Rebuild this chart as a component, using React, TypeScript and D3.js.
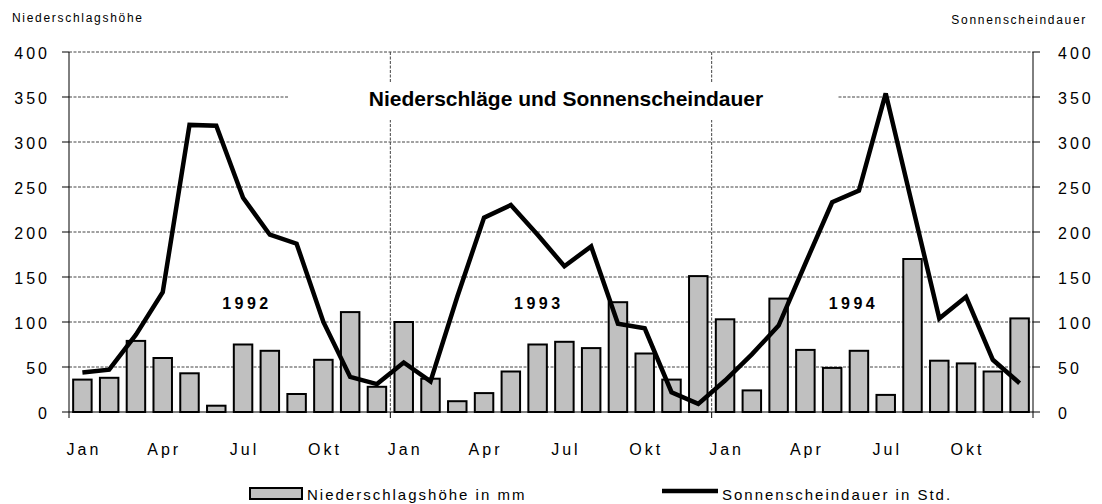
import React from "react";
import * as d3 from "d3";

const monthLabels = ["Jan", "Feb", "Mär", "Apr", "Mai", "Jun", "Jul", "Aug", "Sep", "Okt", "Nov", "Dez"];
const shownMonths = ["Jan", "Apr", "Jul", "Okt"];
const years = ["1992", "1993", "1994"];
const precip1992 = [36, 38, 79, 60, 43, 7, 75, 68, 20, 58, 111, 28];
const precip1993 = [100, 37, 12, 21, 45, 75, 78, 71, 122, 65, 36, 151];
const precip1994 = [103, 24, 126, 69, 49, 68, 19, 170, 57, 54, 45, 104];
const sun1992 = [44, 47, 86, 133, 319, 318, 238, 197, 187, 100, 39, 31];
const sun1993 = [55, 34, 128, 216, 230, 197, 162, 184, 98, 93, 22, 9];
const sun1994 = [35, 64, 96, 165, 233, 246, 354, 229, 104, 128, 58, 32];
const yTicks = [0, 50, 100, 150, 200, 250, 300, 350, 400];
const yearLabelPos = [6.57, 17.47, 29.22];

const title = "Niederschläge und Sonnenscheindauer";
const leftTitle = "Niederschlagshöhe";
const rightTitle = "Sonnenscheindauer";
const legendBar = "Niederschlagshöhe in mm";
const legendLine = "Sonnenscheindauer in Std.";

export default function App() {
  const W = 1102, H = 504;
  const L = 69, R = 1033, T = 52, B = 412;
  const keys: string[] = [];
  years.forEach((y) => monthLabels.forEach((m) => keys.push(y + "-" + m)));
  const precip = [...precip1992, ...precip1993, ...precip1994];
  const sun = [...sun1992, ...sun1993, ...sun1994];

  const x = d3.scaleBand<string>().domain(keys).range([L, R]).paddingInner(0.31).paddingOuter(0.155);
  const xm = d3.scaleLinear().domain([0, keys.length]).range([L, R]);
  const y = d3.scaleLinear().domain([0, 400]).range([B, T]);
  const cx = (k: string) => (x(k) as number) + x.bandwidth() / 2;

  const line = d3
    .line<number>()
    .x((_, i) => cx(keys[i]))
    .y((d) => y(d));

  const font = "Arial, 'Liberation Sans', sans-serif";
  const gridColor = "#444";
  const dash = "3,1.5";
  const boxX0 = 288, boxX1 = 837, boxY0 = 83, boxY1 = 120;

  return (
    <svg width={W} height={H} style={{ position: "absolute", left: 0, top: 0, background: "#fff" }} fontFamily={font}>
      <rect x={0} y={0} width={W} height={H} fill="#fff" />
      {/* horizontal grid */}
      {yTicks.filter((t) => t > 0).map((t) => (
        <line key={"g" + t} x1={L} x2={R} y1={y(t)} y2={y(t)} stroke={gridColor} strokeWidth={1} strokeDasharray={dash} />
      ))}
      {/* vertical year separators */}
      {[12, 24].map((m) => (
        <line key={"v" + m} x1={xm(m)} x2={xm(m)} y1={T} y2={B} stroke={gridColor} strokeWidth={1} strokeDasharray={dash} />
      ))}
      {/* title box */}
      <rect x={boxX0} y={boxY0} width={boxX1 - boxX0} height={boxY1 - boxY0} fill="#fff" />
      <text x={566} y={106} textAnchor="middle" fontSize={21} fontWeight="bold">{title}</text>

      {/* axes */}
      <line x1={L} x2={L} y1={T} y2={B + 6} stroke="#000" strokeWidth={1} />
      <line x1={R} x2={R} y1={T} y2={B + 6} stroke="#000" strokeWidth={1} />
      <line x1={L} x2={R} y1={B} y2={B} stroke="#000" strokeWidth={1} />
      {yTicks.map((t) => (
        <g key={"t" + t}>
          <line x1={L - 7} x2={L} y1={y(t)} y2={y(t)} stroke="#000" />
          <line x1={R} x2={R + 7} y1={y(t)} y2={y(t)} stroke="#000" />
          <text x={50} y={y(t) + 7} textAnchor="end" fontSize={16} letterSpacing={3}>{t}</text>
          <text x={1058} y={y(t) + 7} textAnchor="start" fontSize={16} letterSpacing={3}>{t}</text>
        </g>
      ))}
      {[12, 24].map((m) => (
        <line key={"bt" + m} x1={xm(m)} x2={xm(m)} y1={B} y2={B + 6} stroke="#000" />
      ))}
      {keys.map((k, i) =>
        shownMonths.includes(monthLabels[i % 12]) ? (
          <text key={"m" + k} x={cx(k) + 1.5} y={455} textAnchor="middle" fontSize={16} letterSpacing={3}>
            {monthLabels[i % 12]}
          </text>
        ) : null
      )}
      <text x={12} y={22} fontSize={12} letterSpacing={1.7}>{leftTitle}</text>
      <text x={1087} y={24} fontSize={12} letterSpacing={1.7} textAnchor="end">{rightTitle}</text>

      {/* year labels */}
      {years.map((yr, i) => (
        <text key={yr} x={xm(yearLabelPos[i]) + 2} y={309} textAnchor="middle" fontSize={16} fontWeight="bold" letterSpacing={3.5}>{yr}</text>
      ))}

      {/* bars */}
      {precip.map((v, i) => (
        <rect key={"b" + i} x={x(keys[i]) as number} y={y(v)} width={x.bandwidth()} height={B - y(v)} fill="#c0c0c0" stroke="#000" strokeWidth={2} />
      ))}

      {/* line */}
      <path d={line(sun) || ""} fill="none" stroke="#000" strokeWidth={4.5} strokeLinejoin="miter" />

      {/* legend */}
      <rect x={250} y={488} width={52} height={11} fill="#c0c0c0" stroke="#000" strokeWidth={2} />
      <text x={307} y={500} fontSize={15} letterSpacing={2}>{legendBar}</text>
      <line x1={662} x2={718} y1={491} y2={491} stroke="#000" strokeWidth={4.5} />
      <text x={722} y={500} fontSize={15} letterSpacing={2}>{legendLine}</text>
    </svg>
  );
}
